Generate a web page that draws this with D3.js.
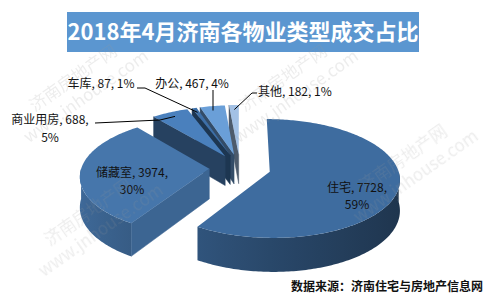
<!DOCTYPE html>
<html>
<head>
<meta charset="utf-8">
<script src="https://cdn.jsdelivr.net/npm/d3@7"></script>
<style>
  body { margin: 0; background: #fff; }
  svg { display: block; }
</style>
</head>
<body>
<script>
const categories = ["住宅", "储藏室", "商业用房", "车库", "办公", "其他"];
const values = [7728, 3974, 688, 87, 467, 182];
const percents = ["59%", "30%", "5%", "1%", "4%", "1%"];
const colors = ["#3e6c9f", "#4676ab", "#4a80bd", "#3d6fa8", "#6a9fd8", "#a3c1e5"];
const title = "2018年4月济南各物业类型成交占比";
const source = "数据来源：济南住宅与房地产信息网";

const w = 488;
const h = 296;
const font = "'Noto Sans CJK SC', 'Noto Sans', sans-serif";

const svg = d3.select("body")
              .append("svg")
              .attr("width", w)
              .attr("height", h);
const defs = svg.append("defs");

// title bar
svg.append("rect")
   .attr("x", 67).attr("y", 12)
   .attr("width", 352).attr("height", 40)
   .attr("fill", "#5b96d0");
svg.append("text")
   .attr("x", 243).attr("y", 40)
   .attr("text-anchor", "middle")
   .attr("font-family", font)
   .attr("font-size", 22)
   .attr("font-weight", "bold")
   .attr("fill", "#fff")
   .text(title);

// 3d pie projection (tilted disc with a little perspective)
const cx = 240, cy = 168, R = 128, RY = 57.8, A = 0.111, T = 30, EXP = 0.24;
function proj(X, Z, hh) {
  const p = 1 / (1 + A * Z);
  return [cx + R * X * p, cy + (-RY * Z + T * hh) * p];
}

const arcs = d3.pie().sort(null).value(d => d)(values);
const slices = arcs.map((a, i) => {
  const m = (a.startAngle + a.endAngle) / 2;
  return { a0: a.startAngle, a1: a.endAngle, m: m,
           ox: EXP * Math.sin(m), oz: EXP * Math.cos(m), i: i };
});
function pt(s, th, r, hh) {
  return proj(s.ox + r * Math.sin(th), s.oz + r * Math.cos(th), hh);
}
function arcPts(s, lo, hi, hh) {
  const n = Math.max(2, Math.ceil((hi - lo) / (Math.PI / 180)));
  return d3.range(n + 1).map(k => pt(s, lo + (hi - lo) * k / n, 1, hh));
}
const line = d3.line();
const pie = svg.append("g");

slices.slice().sort((p, q) => q.oz - p.oz).forEach(s => {
  const base = d3.color(colors[s.i]);
  const g = pie.append("g");

  // radial cut faces that look toward the viewer
  [[s.a0, s.a0 - Math.PI / 2], [s.a1, s.a1 + Math.PI / 2]].forEach(([th, nrm]) => {
    if (Math.cos(nrm) < -1e-6) {
      const face = [pt(s, th, 0, 0), pt(s, th, 1, 0), pt(s, th, 1, 1), pt(s, th, 0, 1)];
      const c = base.darker(1.2 - 0.9 * Math.sin(nrm));
      g.append("path").attr("d", line(face) + "Z")
       .attr("fill", c).attr("stroke", c).attr("stroke-width", 0.5);
    }
  });

  // outer wall, front half only, shaded with a horizontal gradient
  const lo = Math.max(s.a0, Math.PI / 2), hi = Math.min(s.a1, 3 * Math.PI / 2);
  if (hi > lo) {
    const topArc = arcPts(s, lo, hi, 0);
    const botArc = arcPts(s, lo, hi, 1).reverse();
    const xs = topArc.map(d => d[0]);
    const x0 = d3.min(xs), x1 = d3.max(xs);
    const id = "wall" + s.i;
    const grad = defs.append("linearGradient").attr("id", id)
                     .attr("gradientUnits", "userSpaceOnUse")
                     .attr("x1", x0).attr("x2", x1).attr("y1", 0).attr("y2", 0);
    d3.range(13).map(k => lo + (hi - lo) * k / 12).forEach(th => {
      const x = pt(s, th, 1, 0)[0];
      grad.append("stop")
          .attr("offset", x1 > x0 ? (x - x0) / (x1 - x0) : 0)
          .attr("stop-color", base.darker(1.15 + 0.85 * Math.sin(th)));
    });
    grad.selectAll("stop").sort((p, q) => 0);
    const stops = grad.selectAll("stop").nodes()
                      .sort((p, q) => +p.getAttribute("offset") - +q.getAttribute("offset"));
    stops.forEach(n => grad.node().appendChild(n));
    g.append("path").attr("d", line(topArc.concat(botArc)) + "Z")
     .attr("fill", "url(#" + id + ")");
  }

  // top face
  const top = [pt(s, 0, 0, 0)].concat(arcPts(s, s.a0, s.a1, 0));
  g.append("path").attr("d", line(top) + "Z").attr("fill", base);
});

// data labels
const lbl = svg.append("g")
               .attr("font-family", font)
               .attr("font-size", 12)
               .attr("fill", "#111");
function label(i) { return categories[i] + ", " + values[i] + ", "; }

// inside labels
[[0, 357, 192], [1, 132, 177]].forEach(([i, x, y]) => {
  lbl.append("text").attr("x", x).attr("y", y).attr("text-anchor", "middle").text(label(i));
  lbl.append("text").attr("x", x).attr("y", y + 17).attr("text-anchor", "middle").text(percents[i]);
});

// outside labels
lbl.append("text").attr("x", 50).attr("y", 124).attr("text-anchor", "middle").text(label(2));
lbl.append("text").attr("x", 50).attr("y", 142).attr("text-anchor", "middle").text(percents[2]);
lbl.append("text").attr("x", 101).attr("y", 88).attr("text-anchor", "middle").text(label(3) + percents[3]);
lbl.append("text").attr("x", 192).attr("y", 88).attr("text-anchor", "middle").text(label(4) + percents[4]);
lbl.append("text").attr("x", 258).attr("y", 96).text(label(5) + percents[5]);

// leader lines to the slices
const leaders = [[2, [[95, 123], [160, 120]]], [3, [[137, 88], [145, 88]]],
                 [4, [[213, 90]]], [5, [[257, 93], [252, 93]]]];
leaders.forEach(([i, start]) => {
  const s = slices[i];
  const end = pt(s, s.m, 0.9, 0);
  if (i === 4) end[0] = start[0][0];
  svg.append("path")
     .attr("d", line(start.concat([end])))
     .attr("fill", "none")
     .attr("stroke", "#000")
     .attr("stroke-width", 1);
});

// watermark
const wm = svg.append("g")
              .attr("font-family", font)
              .attr("fill", "#9a9a9a")
              .attr("opacity", 0.18);
[[80, 88], [290, 88], [95, 222], [410, 168]].forEach(([x, y]) => {
  const t = wm.append("g").attr("transform", "translate(" + x + "," + y + ") rotate(-35)");
  t.append("text").attr("text-anchor", "middle").attr("y", -6).attr("font-size", 17).text("济南房地产网");
  t.append("text").attr("text-anchor", "middle").attr("y", 16).attr("font-size", 17).text("www.jnhouse.com");
});

// source
svg.append("text")
   .attr("x", 483).attr("y", 291)
   .attr("text-anchor", "end")
   .attr("font-family", font)
   .attr("font-size", 12)
   .attr("font-weight", "bold")
   .attr("fill", "#111")
   .text(source);
</script>
</body>
</html>
